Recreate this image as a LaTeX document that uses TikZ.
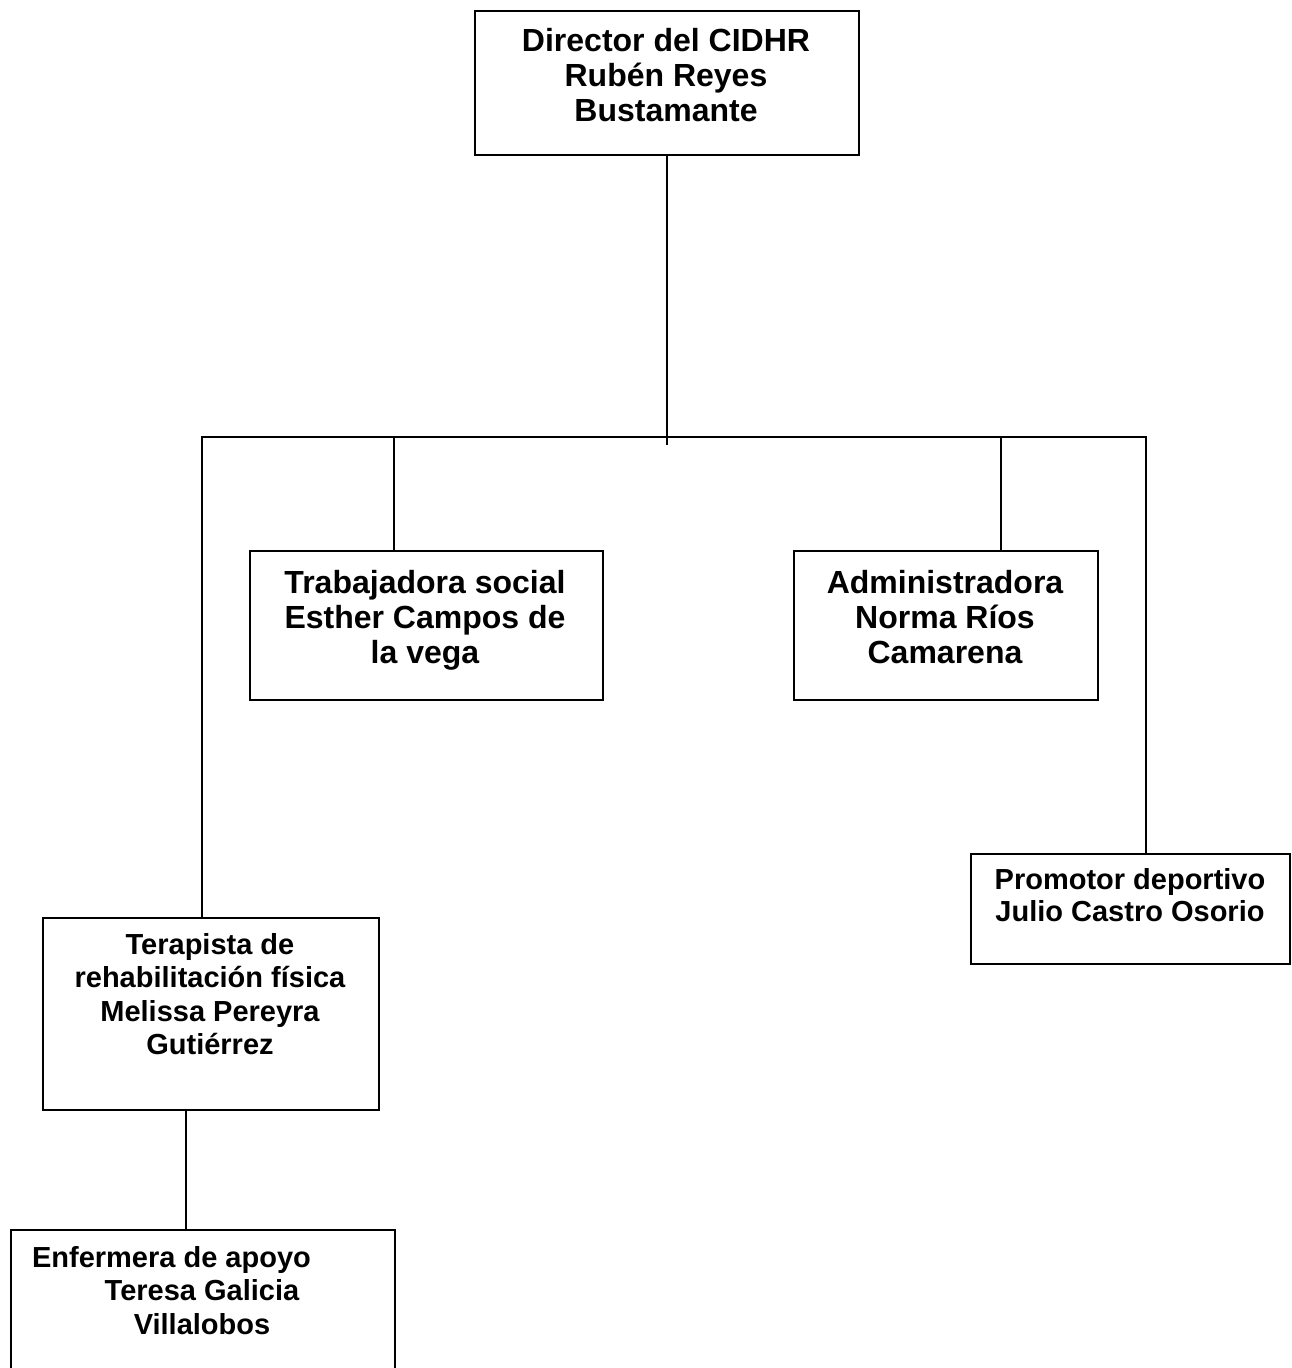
\documentclass[tikz,border=0pt]{standalone}
\usepackage{fontspec}
\setmainfont{Liberation Sans}
\tikzset{
  box/.style={draw, line width=2.2pt, inner sep=0pt, anchor=north west},
  bigtxt/.style={font=\bfseries\fontsize{32}{35.2}\selectfont, align=center, inner sep=0pt, anchor=north},
  smalltxt/.style={font=\bfseries\fontsize{29}{33.4}\selectfont, align=center, inner sep=0pt, anchor=north},
  wire/.style={line width=2pt, line join=miter},
}
\begin{document}
\begin{tikzpicture}[x=1pt,y=1pt]
\clip (0,0) rectangle (1291,-1368);
\fill[white] (0,0) rectangle (1291,-1368);
% boxes
\node[box, minimum width=384pt, minimum height=144pt] (dir) at (474,-10) {};
\node[box, minimum width=353pt, minimum height=149pt] (tra) at (249,-550) {};
\node[box, minimum width=304pt, minimum height=149pt] (adm) at (793,-550) {};
\node[box, minimum width=319pt, minimum height=110pt] (pro) at (970,-853) {};
\node[box, minimum width=336pt, minimum height=192pt] (ter) at (42,-917) {};
\node[box, minimum width=384pt, minimum height=200pt] (enf) at (10,-1229) {};
% texts
\node[bigtxt] (dirt) at (666,-25) {\rule{0pt}{26pt}Director del CIDHR\\Rubén Reyes\\Bustamante};
\node[bigtxt] (trat) at (425,-567) {\rule{0pt}{26pt}Trabajadora social\\Esther Campos de\\la vega};
\node[bigtxt] (admt) at (945,-567) {\rule{0pt}{26pt}Administradora\\Norma Ríos\\Camarena};
\node[smalltxt, font=\bfseries\fontsize{29}{32.5}\selectfont] (prot) at (1130,-865) {\rule{0pt}{24pt}Promotor deportivo\\Julio Castro Osorio};
\node[smalltxt] (tert) at (210,-930) {\rule{0pt}{24pt}Terapista de\\rehabilitación física\\Melissa Pereyra\\Gutiérrez};
\node[smalltxt] (enft) at (202,-1243) {\rule{0pt}{24pt}Enfermera de apoyo\hspace*{61pt}\\Teresa Galicia\\Villalobos};
% connectors
\coordinate (busL) at (202,-437);
\coordinate (busR) at (1146,-437);
\coordinate (tJ) at (394,-437);
\coordinate (aJ) at (1001,-437);
\coordinate (eJ) at (186,0);
\draw[wire] (busL |- ter.north) -- (busL) -- (busR) -- (busR |- pro.north);
\draw[wire] (dir.south) -- ++(0,-289);
\draw[wire] (tJ) -- (tJ |- tra.north);
\draw[wire] (aJ) -- (aJ |- adm.north);
\draw[wire] (eJ |- ter.south) -- (eJ |- enf.north);
\end{tikzpicture}
\end{document}
